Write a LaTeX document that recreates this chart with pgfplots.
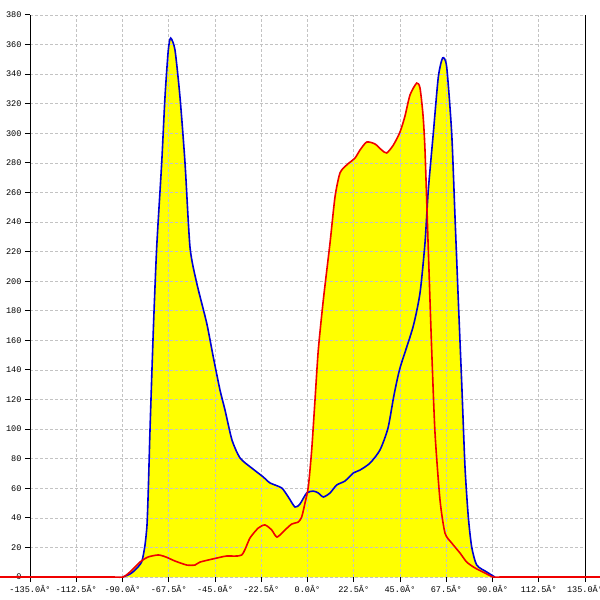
\documentclass[border=0pt]{standalone}
\usepackage{fontspec}
\setmainfont{Liberation Mono}
\setmonofont{Liberation Mono}
\usepackage{pgfplots}
\usepackage{pgfplotstable}
\pgfplotsset{compat=1.18}
\definecolor{fillyel}{RGB}{255,255,0}
\definecolor{lineblue}{RGB}{0,0,215}
\definecolor{linered}{RGB}{240,0,0}
\definecolor{gridgray}{RGB}{195,195,195}

% blue series
\pgfplotstableread{
x y
-89.76 0
-86.35 2
-83.90 4.7
-80.66 10.3
-79.05 21.6
-78.08 35.2
-77.45 58.8
-76.62 99.4
-75.00 167
-73.36 223
-70.93 280
-69.33 324.5
-67.72 356.3
-66.55 364.4
-64.46 356.3
-62.03 324.5
-59.59 280
-57.16 223
-53.90 198.8
-49.04 171.7
-45.83 148.7
-42.57 126.4
-40.13 112.9
-36.73 92.6
-32.84 80.5
-27.15 73.7
-21.50 67.6
-18.24 63.6
-12.55 60.2
-9.34 54.1
-6.08 47.3
-3.65 49.4
-0.39 56.8
2.82 58.1
5.25 56.8
7.69 54.1
10.95 56.8
14.20 62.2
18.24 64.9
22.28 70.3
25.54 72.3
30.40 77
35.27 85.9
39.16 100.7
42.08 123
45.00 141.3
51.33 169
54.73 192
57.16 225.8
58.77 261.7
61.20 300
63.63 338
65.77 351
67.72 344.8
70.15 300
71.76 243.4
73.36 187.3
75.02 131.2
76.62 74.4
78.23 40.6
79.88 20.3
82.31 8.1
87.18 3.4
90.24 0.7
91.20 0
}\bluedata

% red series
\pgfplotstableread{
x y
-149.6 0
-120.0 0
-95.0 0
-89.76 0
-86.35 3.4
-81.49 10.1
-77.60 13.5
-72.58 14.9
-68.84 13.5
-64.46 10.8
-58.77 8.1
-54.73 8.1
-52.30 10.1
-44.17 12.8
-39.31 14.2
-32.01 14.9
-27.97 26.4
-23.93 33.1
-20.68 35.2
-17.42 31.8
-14.84 27
-10.95 31.8
-7.69 35.8
-4.48 37.2
-2.82 40.6
-1.22 50
0.39 60.9
2.04 85.9
3.65 119.7
5.25 153.5
7.69 187.3
10.95 225.8
13.38 257
15.81 273.2
19.07 278.6
23.11 283.3
25.54 288.7
28.80 294.1
32.84 292.8
36.10 288.7
38.53 286.7
41.74 292
45.00 300.9
47.43 311.7
49.86 325.9
53.12 334
54.73 330.6
56.19 312.4
57.16 288.7
58.77 221.1
60.42 153.5
62.03 97.4
64.46 52.1
66.89 29.7
70.15 23
74.19 16.2
77.45 10.1
81.49 6.1
86.35 2.7
90.24 0
95.0 0
120.0 0
142.3 0
}\reddata

\begin{document}
\begin{tikzpicture}
\begin{axis}[
    name=ax,
    set layers,
    scale only axis,
    width=555bp, height=562bp,
    xmin=-135, xmax=135, ymin=0, ymax=380,
    clip=false,
    separate axis lines,
    axis x line*=bottom,
    axis y line*=box,
    x axis line style={draw=none},
    y axis line style={black, line width=1bp},
    xtick={-135,-112.5,-90,-67.5,-45,-22.5,0,22.5,45,67.5,90,112.5,135},
    xticklabels={-135.0Â°,-112.5Â°,-90.0Â°,-67.5Â°,-45.0Â°,-22.5Â°,0.0Â°,22.5Â°,45.0Â°,67.5Â°,90.0Â°,112.5Â°,135.0Â°},
    ytick={0,20,...,380},
    ytick pos=left,
    tick align=outside,
    major tick length=5bp,
    tick style={black, line width=1bp},
    grid=major,
    grid style={gridgray, dash pattern=on 2.5bp off 2.5bp, line width=0.6bp},
    ticklabel style={font=\fontsize{8.6}{9}\selectfont},
    /pgf/number format/assume math mode=true,
]
\addplot[fill=fillyel, draw=none, smooth, tension=0.4, on layer=axis background] table {\bluedata} \closedcycle;
\addplot[fill=fillyel, draw=none, smooth, tension=0.4, on layer=axis background] table {\reddata} \closedcycle;
\addplot[lineblue, line width=1.6bp, smooth, tension=0.4] table {\bluedata};
\addplot[linered, line width=1.6bp, smooth, tension=0.4] table {\reddata};
\end{axis}
\pgfresetboundingbox
\path (ax.south west) ++(-30bp,-23bp) rectangle ++(600bp,600bp);
\end{tikzpicture}
\end{document}
